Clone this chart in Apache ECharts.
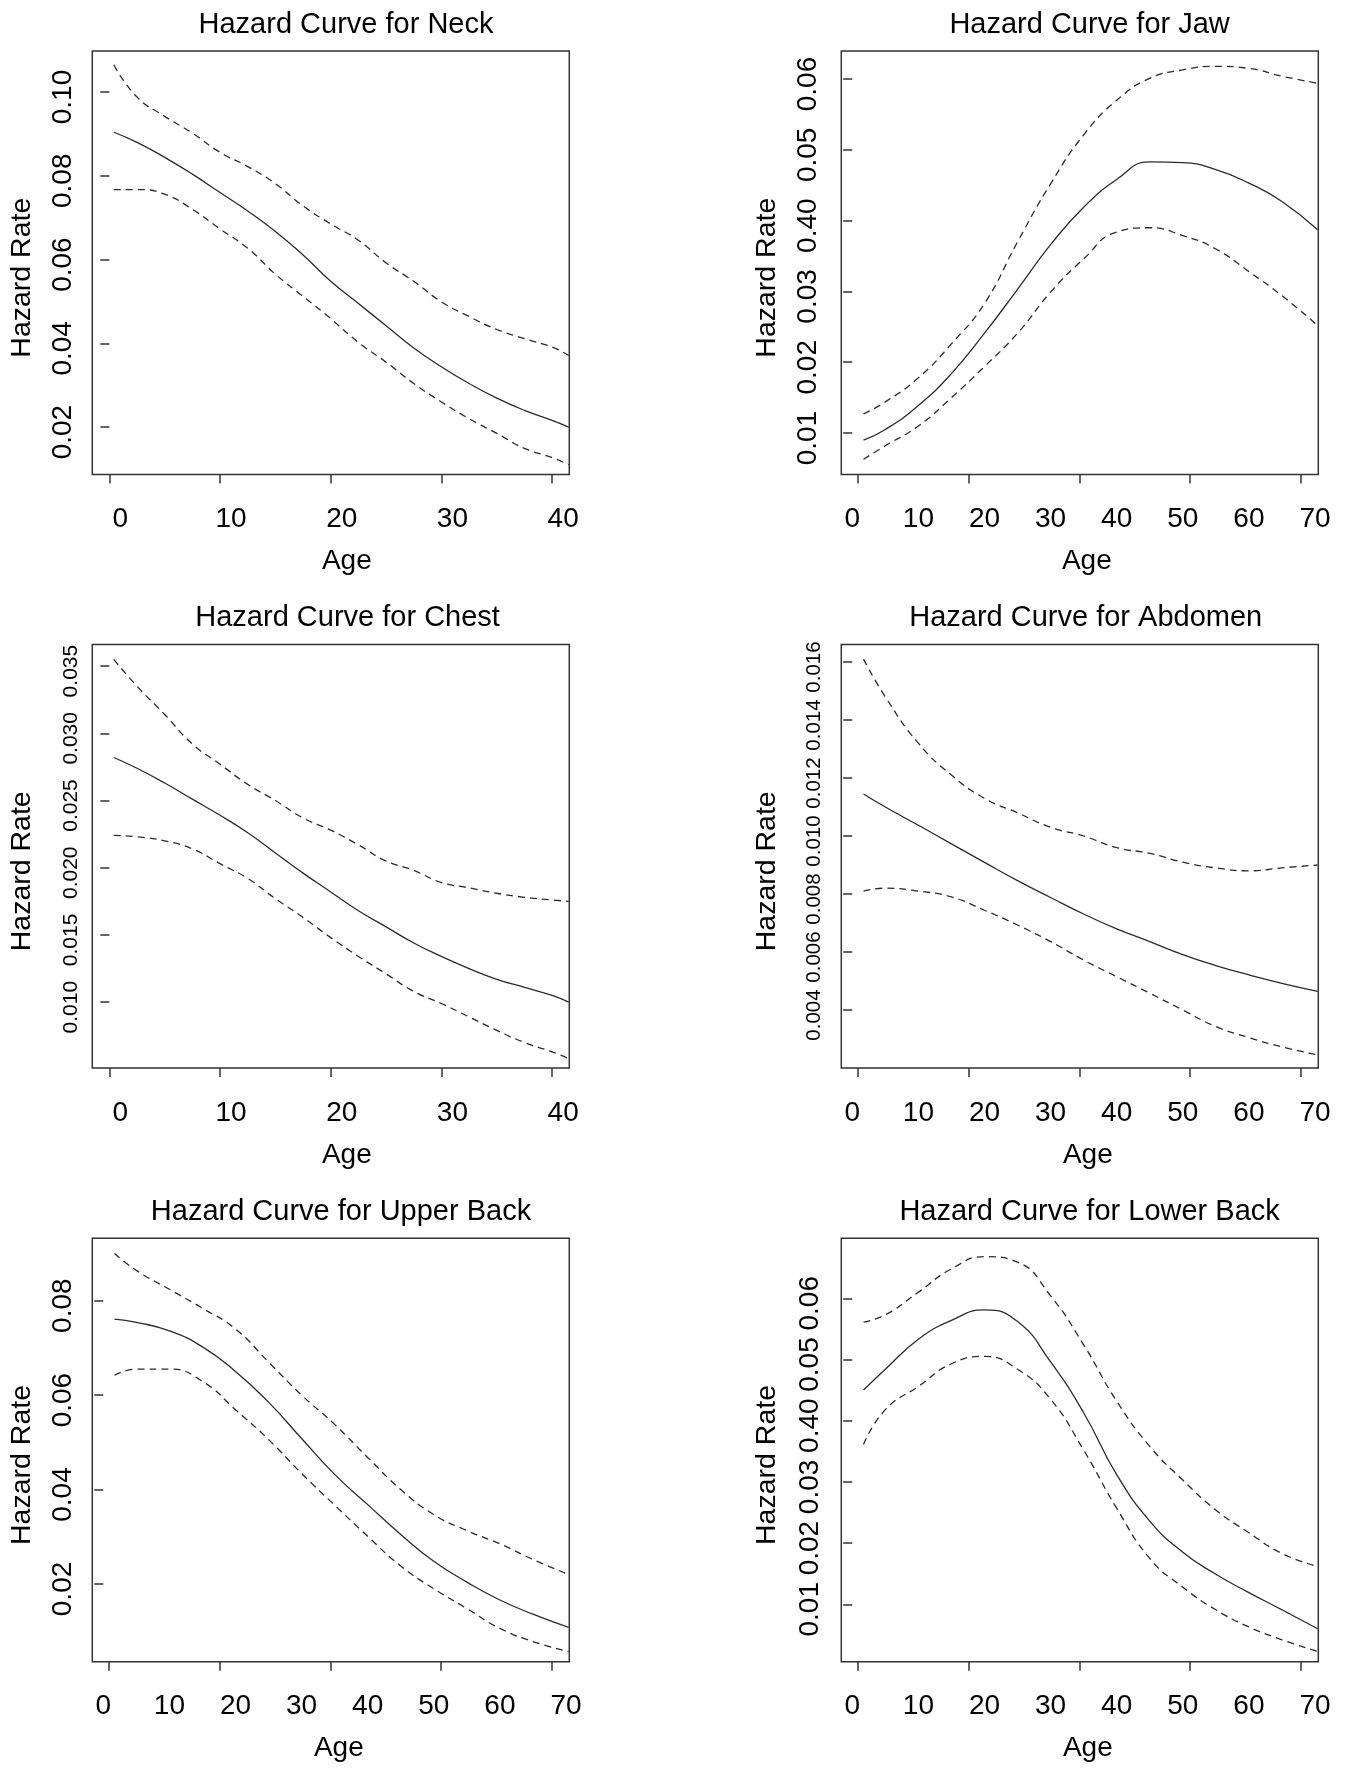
<!DOCTYPE html>
<html lang="en">
<head>
<meta charset="UTF-8">
<title>Hazard Curves</title>
<script src="https://cdn.jsdelivr.net/npm/echarts@6/dist/echarts.min.js"></script>
<style>
  html, body { margin: 0; padding: 0; background: #fff; }
  #chart { width: 1349px; height: 1769px; }
</style>
</head>
<body>
<div id="chart"></div>
<script>
// ages for the 0-40 panels (Neck, Chest)
var ageShort = [0.4, 2.5, 5, 7.5, 10, 12.5, 15, 17.5, 20, 22.5, 25, 27.5, 30, 32.5, 35, 37.5, 40, 41.5];
// ages for the 0-70 panels
var ageLong = [1.7, 5, 10, 15, 20, 25, 30, 35, 40, 45, 50, 55, 60, 65, 70.4];

var neckFit   = [0.0904, 0.0880, 0.0844, 0.0804, 0.0760, 0.0716, 0.0667, 0.0611, 0.0548, 0.0495, 0.0442, 0.0389, 0.0344, 0.0304, 0.0269, 0.0240, 0.0216, 0.0200];
var neckUpper = [0.1065, 0.0988, 0.0942, 0.0902, 0.0856, 0.0822, 0.0781, 0.0728, 0.0685, 0.0646, 0.0592, 0.0548, 0.0499, 0.0464, 0.0433, 0.0411, 0.0391, 0.0371];
var neckLower = [0.0767, 0.0767, 0.0756, 0.0720, 0.0673, 0.0627, 0.0565, 0.0512, 0.0459, 0.0402, 0.0355, 0.0304, 0.0260, 0.0220, 0.0185, 0.0149, 0.0127, 0.0110];

var chestFit   = [0.0282, 0.0274, 0.0263, 0.0251, 0.0239, 0.0226, 0.0211, 0.0196, 0.0182, 0.0168, 0.0156, 0.0144, 0.0134, 0.0125, 0.0117, 0.0111, 0.0105, 0.0100];
var chestUpper = [0.0355, 0.0335, 0.0314, 0.0292, 0.0277, 0.0262, 0.0250, 0.0237, 0.0228, 0.0217, 0.0205, 0.0198, 0.0189, 0.0185, 0.0181, 0.0178, 0.0176, 0.0175];
var chestLower = [0.0224, 0.0223, 0.0220, 0.0214, 0.0203, 0.0192, 0.0177, 0.0163, 0.0148, 0.0134, 0.0121, 0.0108, 0.0099, 0.0089, 0.0079, 0.0070, 0.0063, 0.0058];

var jawFit   = [0.0090, 0.0105, 0.0139, 0.0184, 0.0241, 0.0303, 0.0366, 0.0419, 0.0458, 0.0483, 0.0482, 0.0472, 0.0453, 0.0427, 0.0387];
var jawUpper = [0.0127, 0.0144, 0.0178, 0.0226, 0.0283, 0.0370, 0.0452, 0.0521, 0.0570, 0.0601, 0.0613, 0.0618, 0.0615, 0.0604, 0.0594];
var jawLower = [0.0063, 0.0082, 0.0110, 0.0150, 0.0194, 0.0241, 0.0299, 0.0346, 0.0384, 0.0390, 0.0379, 0.0360, 0.0328, 0.0294, 0.0252];

var abdomenFit   = [0.01145, 0.0110, 0.01037, 0.00973, 0.00909, 0.00846, 0.00788, 0.00731, 0.0068, 0.00636, 0.00591, 0.00553, 0.00521, 0.00492, 0.00464];
var abdomenUpper = [0.0161, 0.0148, 0.0132, 0.0121, 0.0113, 0.0108, 0.0103, 0.0100, 0.0096, 0.0094, 0.0091, 0.0089, 0.0088, 0.0089, 0.0090];
var abdomenLower = [0.0081, 0.0082, 0.0081, 0.0079, 0.00744, 0.00693, 0.00636, 0.00572, 0.00515, 0.00458, 0.0040, 0.00343, 0.00305, 0.00273, 0.00245];

var upperBackFit   = [0.0761, 0.0754, 0.0736, 0.0702, 0.0650, 0.0585, 0.0508, 0.0432, 0.0368, 0.0305, 0.0248, 0.0204, 0.0166, 0.0136, 0.0108];
var upperBackUpper = [0.0900, 0.0864, 0.0824, 0.0784, 0.0740, 0.0670, 0.0600, 0.0538, 0.0468, 0.0400, 0.0347, 0.0313, 0.0285, 0.0252, 0.0220];
var upperBackLower = [0.0642, 0.0655, 0.0655, 0.0629, 0.0569, 0.0506, 0.0434, 0.0367, 0.0301, 0.0238, 0.0190, 0.0148, 0.0106, 0.0078, 0.0057];

var lowerBackFit   = [0.0450, 0.0484, 0.0533, 0.0564, 0.0581, 0.0562, 0.0496, 0.0413, 0.0312, 0.0236, 0.0185, 0.0149, 0.0119, 0.0091, 0.0060];
var lowerBackUpper = [0.0561, 0.0573, 0.0610, 0.0648, 0.0668, 0.0659, 0.0604, 0.0524, 0.0432, 0.0358, 0.0303, 0.0254, 0.0217, 0.0183, 0.0162];
var lowerBackLower = [0.0361, 0.0418, 0.0456, 0.0493, 0.0505, 0.0484, 0.0435, 0.0352, 0.0257, 0.0175, 0.0128, 0.0091, 0.0063, 0.0042, 0.0023];

// x axis ticks and labels
var xTicksShort  = [0, 10, 20, 30, 40];
var xLabelsShort = [0, 10, 20, 30, 40];
var xTicksLong   = [0.9, 17.55, 34.4, 51.1, 67.9];
var xLabelsLong  = [0, 10, 20, 30, 40, 50, 60, 70];

// y axis ticks and labels
var neckYTicks    = [0.02, 0.04, 0.06, 0.08, 0.10];
var neckYLabels   = ['0.02', '0.04', '0.06', '0.08', '0.10'];
var jawYTicks     = [0.01, 0.02, 0.03, 0.04, 0.05, 0.06];
var jawYLabels    = ['0.01', '0.02', '0.03', '0.40', '0.05', '0.06'];
var chestYTicks   = [0.010, 0.015, 0.020, 0.025, 0.030, 0.035];
var chestYLabels  = ['0.010', '0.015', '0.020', '0.025', '0.030', '0.035'];
var abdomenYTicks = [0.004, 0.006, 0.008, 0.010, 0.012, 0.014, 0.016];
var abdomenYLabels = ['0.004', '0.006', '0.008', '0.010', '0.012', '0.014', '0.016'];
var upperYTicks   = [0.02, 0.04, 0.06, 0.08];
var upperYLabels  = ['0.02', '0.04', '0.06', '0.08'];
var lowerYTicks   = [0.01, 0.02, 0.03, 0.04, 0.05, 0.06];
var lowerYLabels  = ['0.01', '0.02', '0.03', '0.40', '0.05', '0.06'];

var FONT = 'Liberation Sans, Arial, Helvetica, sans-serif';
var colLeft = [92.3, 841.3];
var rowTop = [51, 644.6, 1238.3];
var boxW = 477, boxH = 423.4;

var panels = [
  {title: 'Hazard Curve for Neck', col: 0, row: 0, ages: ageShort, fit: neckFit, up: neckUpper, lo: neckLower,
   short: true, yMin: 0.0087, yMax: 0.1098, yTicks: neckYTicks, yLabels: neckYLabels, yFont: 28, yMargin: 15,
   titleX: 346, ageShift: 16},
  {title: 'Hazard Curve for Jaw', col: 1, row: 0, ages: ageLong, fit: jawFit, up: jawUpper, lo: jawLower,
   short: false, yMin: 0.00416, yMax: 0.06396, yTicks: jawYTicks, yLabels: jawYLabels, yFont: 28, yMargin: 19,
   titleX: 1089.6, ageShift: 7},
  {title: 'Hazard Curve for Chest', col: 0, row: 1, ages: ageShort, fit: chestFit, up: chestUpper, lo: chestLower,
   short: true, yMin: 0.0051, yMax: 0.0366, yTicks: chestYTicks, yLabels: chestYLabels, yFont: 21, yMargin: 11,
   titleX: 347.6, ageShift: 16},
  {title: 'Hazard Curve for Abdomen', col: 1, row: 1, ages: ageLong, fit: abdomenFit, up: abdomenUpper, lo: abdomenLower,
   short: false, yMin: 0.0020, yMax: 0.0166, yTicks: abdomenYTicks, yLabels: abdomenYLabels, yFont: 20.5, yMargin: 16,
   titleX: 1085.7, ageShift: 8},
  {title: 'Hazard Curve for Upper Back', col: 0, row: 2, ages: ageLong, fit: upperBackFit, up: upperBackUpper, lo: upperBackLower,
   short: false, yMin: 0.00354, yMax: 0.0932, yTicks: upperYTicks, yLabels: upperYLabels, yFont: 28, yMargin: 15,
   titleX: 341, ageShift: 8},
  {title: 'Hazard Curve for Lower Back', col: 1, row: 2, ages: ageLong, fit: lowerBackFit, up: lowerBackUpper, lo: lowerBackLower,
   short: false, yMin: 0.00062, yMax: 0.0698, yTicks: lowerYTicks, yLabels: lowerYLabels, yFont: 28, yMargin: 17.5,
   titleX: 1089.6, ageShift: 8}
];

function pairs(xs, ys) {
  return ys.map(function (y, i) { return [xs[i], y]; });
}

var option = {
  backgroundColor: '#fff',
  animation: false,
  title: [],
  grid: [],
  xAxis: [],
  yAxis: [],
  series: []
};

panels.forEach(function (p, i) {
  var left = colLeft[p.col], top = rowTop[p.row];
  option.title.push({
    text: p.title,
    left: p.titleX,
    top: top - 41,
    textAlign: 'center',
    padding: 0,
    textStyle: {fontSize: 29, fontWeight: 'normal', color: '#000', fontFamily: FONT}
  });
  option.grid.push({
    left: left, top: top, width: boxW, height: boxH,
    show: true, borderColor: '#333', borderWidth: 1.5, backgroundColor: 'transparent'
  });
  option.xAxis.push({
    gridIndex: i,
    type: 'value',
    min: p.short ? -1.54 : -1.66,
    max: p.short ? 41.55 : 70.5,
    axisLine: {show: false},
    splitLine: {show: false},
    axisTick: {show: true, customValues: p.short ? xTicksShort : xTicksLong, length: 9,
      lineStyle: {color: '#333', width: 1.5}},
    axisLabel: {customValues: p.short ? xLabelsShort : xLabelsLong, margin: 31, fontSize: 28,
      color: '#000', fontFamily: FONT, padding: p.short ? [0, 0, 0, 22] : 0,
      formatter: function (v) { return String(Math.round(v)); }},
    name: 'Age',
    nameLocation: 'middle',
    nameGap: 73,
    nameTextStyle: {fontSize: 28, color: '#000', fontFamily: FONT, padding: [0, 0, 0, p.ageShift * 2]}
  });
  option.yAxis.push({
    gridIndex: i,
    type: 'value',
    min: p.yMin,
    max: p.yMax,
    axisLine: {show: false},
    splitLine: {show: false},
    axisTick: {show: true, customValues: p.yTicks, length: 9, lineStyle: {color: '#333', width: 1.5}},
    axisLabel: {customValues: p.yTicks, rotate: 90, margin: p.yMargin, fontSize: p.yFont,
      color: '#000', fontFamily: FONT, padding: [0, 10, 0, 0],
      formatter: function (v) {
        for (var k = 0; k < p.yTicks.length; k++) {
          if (Math.abs(p.yTicks[k] - v) < 1e-9) return p.yLabels[k];
        }
        return '';
      }},
    name: 'Hazard Rate',
    nameLocation: 'middle',
    nameGap: p.col === 0 ? 55.6 : 60,
    nameTextStyle: {fontSize: 28.5, color: '#000', fontFamily: FONT, padding: [0, 30, 0, 0]}
  });
  var lines = [
    {data: p.fit, type: 'solid'},
    {data: p.up, type: [7, 5]},
    {data: p.lo, type: [7, 5]}
  ];
  lines.forEach(function (l) {
    option.series.push({
      type: 'line',
      xAxisIndex: i,
      yAxisIndex: i,
      data: pairs(p.ages, l.data),
      smooth: 0.5,
      showSymbol: false,
      symbol: 'none',
      lineStyle: {color: '#2b2b2b', width: 1.3, type: l.type}
    });
  });
});

var chart = echarts.init(document.getElementById('chart'), null, {renderer: 'canvas'});
chart.setOption(option);
window.onresize = function () { chart.resize(); };
</script>
</body>
</html>
